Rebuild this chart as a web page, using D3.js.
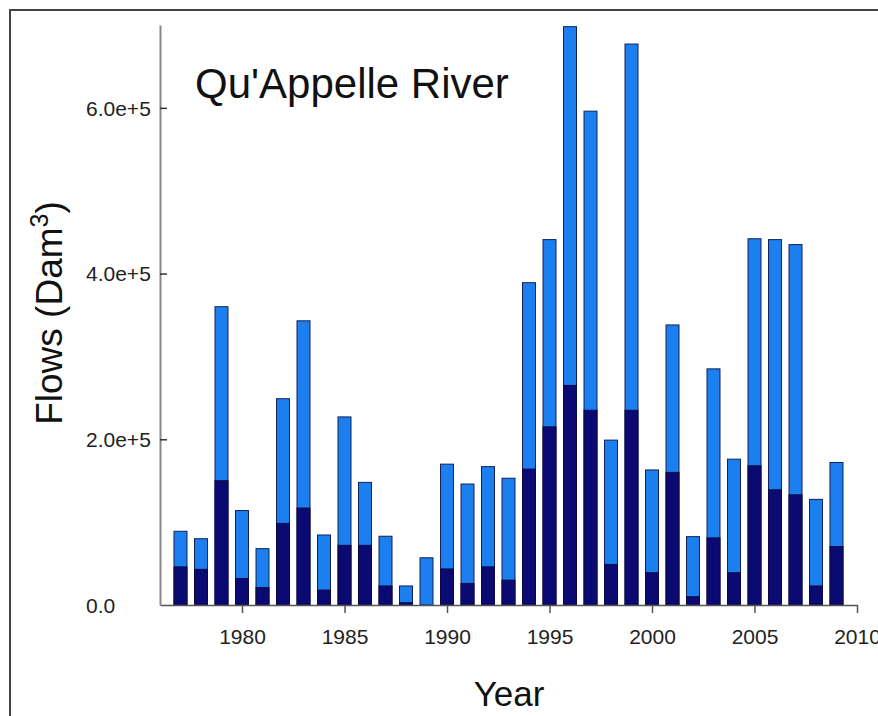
<!DOCTYPE html>
<html>
<head>
<meta charset="utf-8">
<script src="https://cdn.jsdelivr.net/npm/d3@7"></script>
<style>
  body { margin: 0; background: #fff; }
  svg { display: block; font-family: "Liberation Sans", Arial, sans-serif; }
</style>
</head>
<body>
<svg id="chart" width="878" height="716"></svg>
<script>
// years on the x axis
const years = [1977, 1978, 1979, 1980, 1981, 1982, 1983, 1984, 1985, 1986, 1987,
    1988, 1989, 1990, 1991, 1992, 1993, 1994, 1995, 1996, 1997, 1998,
    1999, 2000, 2001, 2002, 2003, 2004, 2005, 2006, 2007, 2008, 2009];

// total flow (light blue bar top)
const totalFlow = [89000, 80000, 360000, 114000, 68000, 249000, 343000, 84500, 227000, 148000, 83000,
    23000, 57000, 170000, 146000, 167000, 153000, 389000, 441000, 698000, 596000, 199000,
    677000, 163000, 338000, 82500, 285000, 176000, 442000, 441000, 435000, 127500, 172000];

// lower part (dark navy bar)
const baseFlow = [46000, 43000, 150000, 32000, 21000, 98500, 117000, 18000, 72000, 72000, 23000,
    2800, 0, 43500, 26000, 46000, 30000, 164000, 215000, 265000, 235000, 49000,
    235000, 39000, 160000, 10000, 81000, 39000, 168000, 139000, 133000, 23000, 70500];

const xTicks = [1980, 1985, 1990, 1995, 2000, 2005, 2010];
const yTicks = [0, 200000, 400000, 600000];

const svg = d3.select('#chart');

// outer frame
svg.append('rect')
    .attr('x', 10).attr('y', 10)
    .attr('width', 900).attr('height', 740)
    .attr('fill', 'none')
    .attr('stroke', '#444')
    .attr('stroke-width', 2);

const x = d3.scaleLinear().domain([1976, 2010]).range([160, 857]);
const y = d3.scaleLinear().domain([0, 700000]).range([605, 25]);
const barW = 13;

// light bars (totals)
svg.append('g').selectAll('rect')
    .data(years)
    .join('rect')
    .attr('x', (d) => x(d) - barW / 2)
    .attr('width', barW)
    .attr('y', (d, i) => y(totalFlow[i]))
    .attr('height', (d, i) => y(0) - y(totalFlow[i]))
    .attr('fill', '#1b7ff0')
    .attr('stroke', '#14205a')
    .attr('stroke-width', 1);

// dark bars (base part)
svg.append('g').selectAll('rect')
    .data(years.filter((d, i) => baseFlow[i] > 0))
    .join('rect')
    .attr('x', (d) => x(d) - barW / 2)
    .attr('width', barW)
    .attr('y', (d) => y(baseFlow[years.indexOf(d)]))
    .attr('height', (d) => y(0) - y(baseFlow[years.indexOf(d)]))
    .attr('fill', '#0a0a72')
    .attr('stroke', '#0a0a40')
    .attr('stroke-width', 1);

// x axis
const xAxis = svg.append('g')
    .attr('transform', 'translate(0,605)')
    .call(d3.axisBottom(x).tickValues(xTicks).tickFormat(d3.format('d')).tickSize(8).tickSizeOuter(0));
xAxis.select('.domain').attr('stroke', '#555').attr('stroke-width', 1.5);
xAxis.selectAll('.tick line').attr('stroke', '#555').attr('stroke-width', 1.5);
xAxis.selectAll('.tick text')
    .attr('y', 39).attr('dy', 0)
    .attr('font-size', 21)
    .attr('fill', '#222');

// y axis, inside ticks, labels left aligned
const fmtY = (d) => d === 0 ? '0.0' : d3.format('.1e')(d);
const yAxis = svg.append('g')
    .attr('transform', 'translate(160,0)')
    .call(d3.axisLeft(y).tickValues(yTicks).tickFormat(fmtY).tickSize(-7).tickSizeOuter(0));
yAxis.select('.domain').attr('stroke', '#888').attr('stroke-width', 2);
yAxis.selectAll('.tick line').attr('stroke', '#333').attr('stroke-width', 1.5)
    .attr('opacity', (d) => d === 0 ? 0 : 1);
yAxis.selectAll('.tick text')
    .attr('x', -74).attr('dy', '0.35em')
    .attr('text-anchor', 'start')
    .attr('font-size', 21)
    .attr('fill', '#222');

// title
svg.append('text')
    .attr('x', 195).attr('y', 98)
    .attr('font-size', 42)
    .attr('fill', '#111')
    .text("Qu'Appelle River");

// axis titles
svg.append('text')
    .attr('x', 509).attr('y', 706)
    .attr('text-anchor', 'middle')
    .attr('font-size', 35)
    .attr('fill', '#111')
    .text('Year');

const yTitle = svg.append('text')
    .attr('transform', 'translate(62,313) rotate(-90)')
    .attr('text-anchor', 'middle')
    .attr('font-size', 37)
    .attr('fill', '#111');
yTitle.append('tspan').text('Flows (Dam');
yTitle.append('tspan').attr('font-size', 25).attr('dy', -14).text('3');
yTitle.append('tspan').attr('dy', 14).text(')');
</script>
</body>
</html>
